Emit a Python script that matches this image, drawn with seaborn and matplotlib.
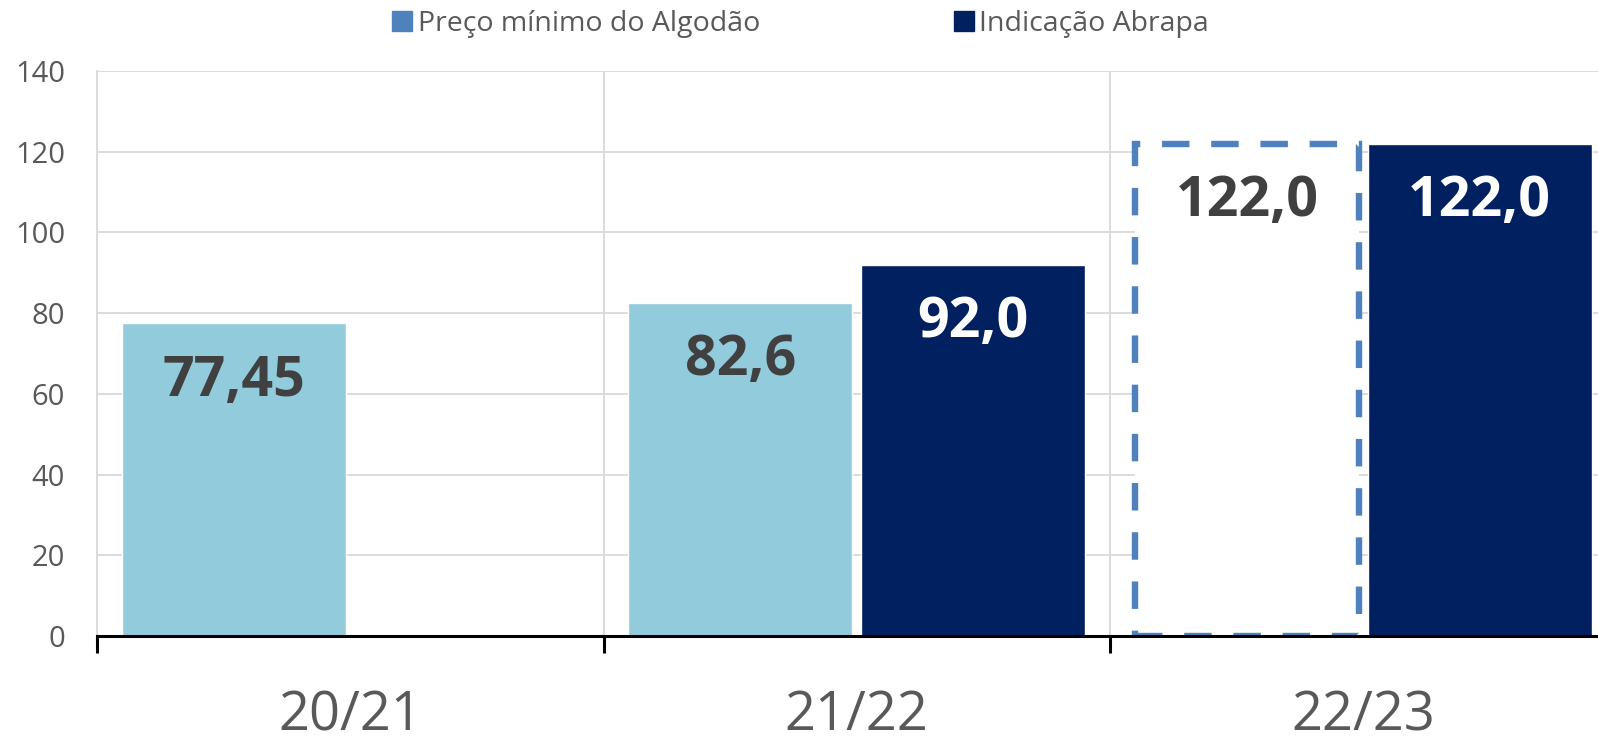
import matplotlib
matplotlib.use("Agg")
import matplotlib.pyplot as plt
import seaborn as sns
import pandas as pd
import numpy as np
from matplotlib.lines import Line2D

# ---- data ----
safras = ["20/21", "21/22", "22/23"]
series = ["Preço mínimo do Algodão", "Indicação Abrapa"]
preco_minimo = [77.45, 82.6, 122.0]
indicacao_abrapa = [np.nan, 92.0, 122.0]
rotulos_preco = ["77,45", "82,6", "122,0"]
rotulos_abrapa = ["", "92,0", "122,0"]
y_ticks = [0, 20, 40, 60, 80, 100, 120, 140]

# ---- styles ----
LIGHT = "#92CBDC"
DARK = "#002060"
LEGEND_BLUE = "#4F81BD"
GRID = "#D9D9D9"
TXT = "#595959"
LBL = "#404040"

df = pd.DataFrame({
    "Safra": safras * 2,
    "Série": [series[0]] * 3 + [series[1]] * 3,
    "Valor": preco_minimo + indicacao_abrapa,
})

sns.set_theme(style="white")
plt.rcParams['font.family'] = ['Open Sans', 'DejaVu Sans']

W, H = 1598, 745
fig = plt.figure(figsize=(W / 100, H / 100), dpi=100)
ax = fig.add_axes([97 / W, 1 - 636 / H, 1 - 97 / W, (636 - 71) / H])

sns.barplot(data=df, x="Safra", y="Valor", hue="Série", order=safras,
            hue_order=series, palette=[LIGHT, DARK], width=0.92, gap=0.04,
            saturation=1, legend=False, ax=ax, zorder=2, errorbar=None)

ax.set_yticks(y_ticks)
ax.set_xlabel("")
ax.set_ylabel("")

# x ticks: boundaries as major (tick marks + vertical grid), categories as minor labels
ax.set_xticks([-0.5, 0.5, 1.5, 2.5])
ax.set_xticklabels([])
ax.set_xticks(range(len(safras)), minor=True)
ax.set_xticklabels(safras, minor=True)
ax.set_xlim(-0.5, -0.5 + (W - 97) / 506.5)
ax.set_ylim(0, 140)
ax.tick_params(axis="x", which="major", length=12.5, width=2.2, color="black", direction="out", bottom=True)
ax.tick_params(axis="x", which="minor", length=0, pad=37.5, labelsize=39, labelcolor=TXT, bottom=True)
ax.tick_params(axis="y", length=0, pad=23, labelsize=21, labelcolor=TXT, left=True)

ax.grid(True, axis="both", which="major", color=GRID, lw=1.3, zorder=0)
ax.set_axisbelow(True)
for s in ["top", "right"]:
    ax.spines[s].set_visible(False)
ax.spines["left"].set_color(GRID)
ax.spines["left"].set_linewidth(1.3)
ax.spines["bottom"].set_color("black")
ax.spines["bottom"].set_linewidth(2.2)
ax.spines["bottom"].set_zorder(5)

# labels and dashed projection bar
for ci, cont in enumerate(ax.containers):
    labels = rotulos_preco if ci == 0 else rotulos_abrapa
    for bar in cont:
        h = bar.get_height()
        if not np.isfinite(h) or h == 0:
            continue
        idx = int(round(bar.get_x() + bar.get_width() / 2))
        if ci == 0 and idx == 2:
            bar.set_facecolor("white")
            bar.set_edgecolor(LEGEND_BLUE)
            bar.set_linewidth(4.6)
            bar.set_linestyle((0, (4.3, 3.4)))
        color = "white" if ci == 1 else LBL
        ax.text(bar.get_x() + bar.get_width() / 2, h - 14.3, labels[idx],
                ha="center", va="center", fontsize=40, fontweight="bold",
                color=color, zorder=6)

handles = [Line2D([], [], marker="s", linestyle="none", markersize=14,
                  markerfacecolor=c, markeredgecolor=c) for c in (LEGEND_BLUE, DARK)]
fig.legend(handles, series, loc="center", bbox_to_anchor=(0.501, 0.968), ncol=2,
           frameon=False, fontsize=20.5, labelcolor=TXT, handletextpad=0.2,
           columnspacing=6.8, handlelength=0.7)

fig.savefig("out.png", dpi=100)
